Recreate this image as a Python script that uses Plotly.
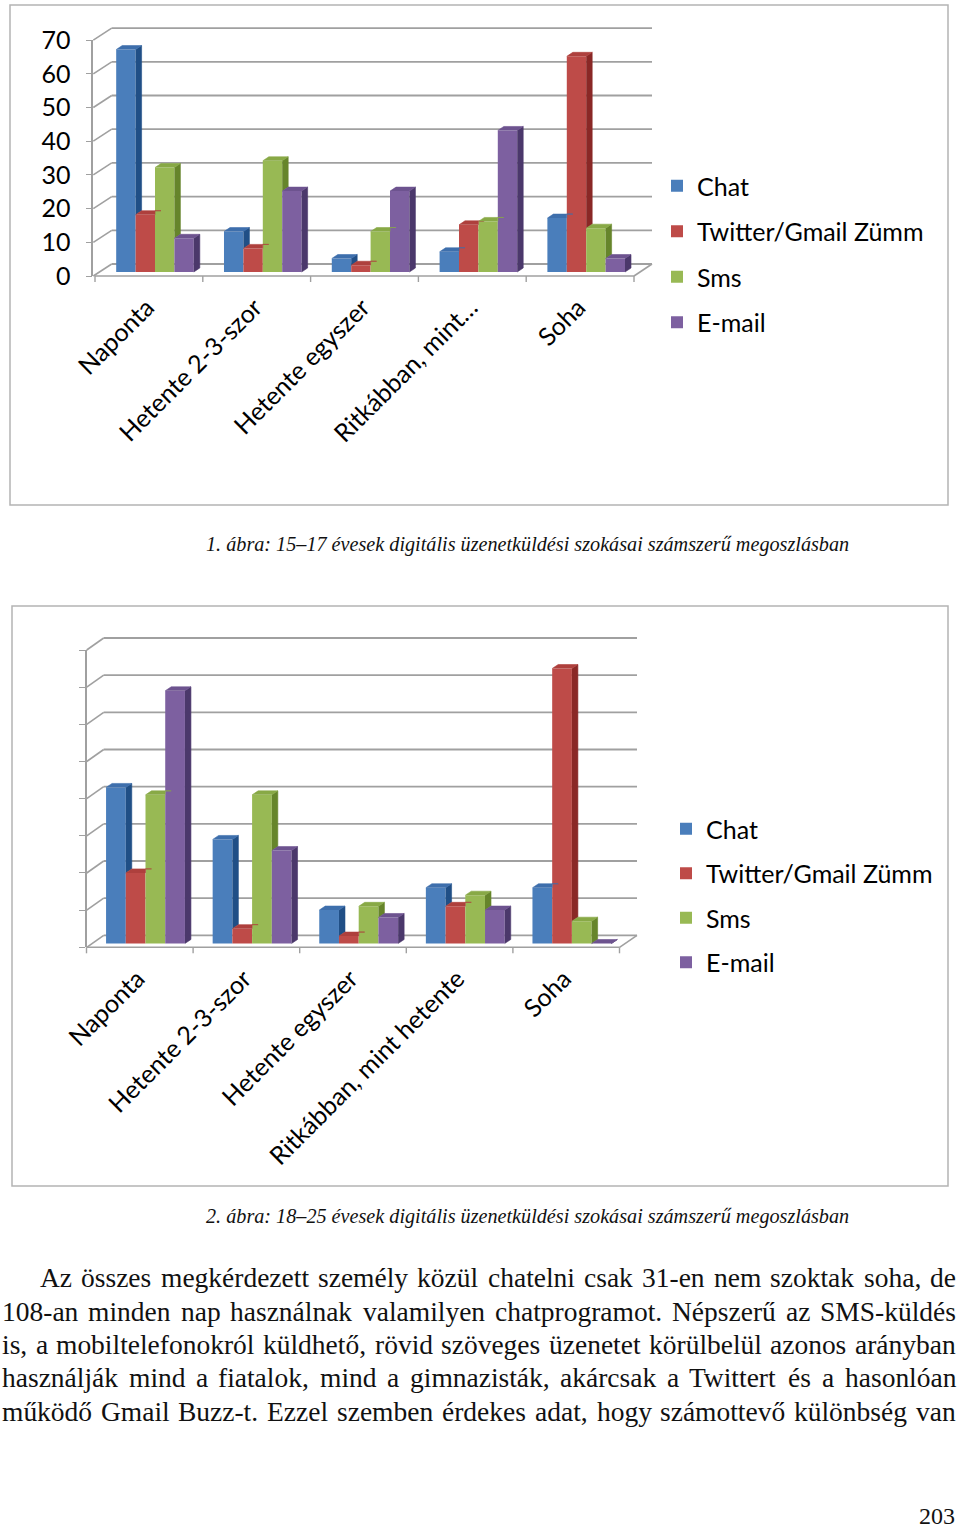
import plotly.graph_objects as go

# ---------------- data ----------------
categories_1 = ["Naponta", "Hetente 2-3-szor", "Hetente egyszer", "Ritkábban, mint…", "Soha"]
categories_2 = ["Naponta", "Hetente 2-3-szor", "Hetente egyszer", "Ritkábban, mint hetente", "Soha"]
series_names = ["Chat", "Twitter/Gmail Zümm", "Sms", "E-mail"]

chat_1 = [66, 12, 4, 6, 16]
twitter_1 = [17, 7, 2, 14, 64]
sms_1 = [31, 33, 12, 15, 13]
email_1 = [10, 24, 24, 42, 4]

chat_2 = [42, 28, 9, 15, 15]
twitter_2 = [19, 4, 2, 10, 74]
sms_2 = [40, 40, 10, 13, 6]
email_2 = [68, 25, 7, 9, 0]

y_ticks_1 = [0, 10, 20, 30, 40, 50, 60, 70]
y_ticks_2 = [0, 10, 20, 30, 40, 50, 60, 70, 80]

caption_1 = "1. ábra: 15–17 évesek digitális üzenetküldési szokásai számszerű megoszlásban"
caption_2 = "2. ábra: 18–25 évesek digitális üzenetküldési szokásai számszerű megoszlásban"
body_lines = [
    "Az összes megkérdezett személy közül chatelni csak 31-en nem szoktak soha, de",
    "108-an minden nap használnak valamilyen chatprogramot. Népszerű az SMS-küldés",
    "is, a mobiltelefonokról küldhető, rövid szöveges üzenetet körülbelül azonos arányban",
    "használják mind a fiatalok, mind a gimnazisták, akárcsak a Twittert és a hasonlóan",
    "működő Gmail Buzz-t. Ezzel szemben érdekes adat, hogy számottevő különbség van",
]
page_number = "203"

# ---------------- style ----------------
FRONT = ["#4A7EBB", "#BE4B48", "#98B954", "#7D60A0"]
SIDE = ["#204F86", "#8A2826", "#66852B", "#4B386B"]
TOP = ["#3E6FAC", "#AE403D", "#88A946", "#6D538F"]
GRID = "#a0a0a0"
FRAME = "#b4b4b4"
CHART_FONT = "Lato"
CHART_SIZE = 25
SERIF = "Liberation Serif"
W, H = 960, 1530

GEO_1 = dict(front_x=93.3, front_y0=276.0, scale=3.37, bar_cx0=155.0, cat_w=107.8,
             bar_y0=272.0, floor_x0=95.0, wall_dx=18.4, wall_dy=12.0, right_px=652.0,
             depth_dx=6.0, depth_dy=4.0, bargap=0.28, label_shift=-8.0)
GEO_2 = dict(front_x=86.7, front_y0=947.3, scale=3.716, bar_cx0=145.5, cat_w=106.6,
             bar_y0=943.5, floor_x0=86.5, wall_dx=17.0, wall_dy=12.0, right_px=637.0,
             depth_dx=6.0, depth_dy=4.0, bargap=0.26, label_shift=-8.0)


def px_x(px):
    return px / W


def px_y(py):
    return 1 - py / H


fig = go.Figure()
shapes = []
annotations = []


def add_chart(values, categories, ticks, geo, xa, ya, legend_name, show_labels):
    n_s = len(values)
    x_idx = list(range(len(categories)))
    bargap = geo["bargap"]
    bw = (1 - bargap) / n_s
    dx = geo["depth_dx"] / geo["cat_w"]
    dy = geo["depth_dy"] / geo["scale"]
    for s, vals in enumerate(values):
        fig.add_trace(go.Bar(
            x=x_idx, y=vals, name=series_names[s], xaxis=xa, yaxis=ya,
            marker=dict(color=FRONT[s], line=dict(width=0)), width=bw,
            offset=-(1 - bargap) / 2 + s * bw,
            legend=legend_name, legendgroup=f"{legend_name}_{s}", hoverinfo="skip"))
    for s, vals in enumerate(values):
        sx, sy, tx, ty = [], [], [], []
        for c, v in enumerate(vals):
            xl = c - (1 - bargap) / 2 + s * bw
            xr = xl + bw
            vn = values[s + 1][c] if s + 1 < n_s else None
            if vn is None or v > vn:
                base = 0 if vn is None else vn
                sx += [xr, xr + dx, xr + dx, xr, None]
                sy += [base, base + dy, v + dy, v, None]
            if vn is not None and vn > v:
                vc = min(vn, v + dy)
                tx += [xl, xl + dx, xr + dx, xr + (vc - v) / dy * dx, xr, xr, None]
                ty += [v, v + dy, v + dy, vc, vc, v, None]
            else:
                tx += [xl, xl + dx, xr + dx, xr, None]
                ty += [v, v + dy, v + dy, v, None]
        for fx, fy, col in ((sx, sy, SIDE[s]), (tx, ty, TOP[s])):
            fig.add_trace(go.Scatter(
                x=fx, y=fy, xaxis=xa, yaxis=ya, mode="lines", fill="toself",
                fillcolor=col, line=dict(width=0.6, color=col), showlegend=False,
                hoverinfo="skip"))

    # axis decorations (front axis diagonals, back wall grid, floor)
    off = (geo["front_y0"] - geo["bar_y0"]) / geo["scale"]
    ymax = ticks[-1]
    for v in ticks:
        fy = geo["front_y0"] - v * geo["scale"]
        bx = geo["front_x"] + geo["wall_dx"]
        by = fy - geo["wall_dy"]
        shapes.append(dict(type="line", xref="paper", yref="paper", layer="below",
                           x0=px_x(geo["front_x"]), y0=px_y(fy), x1=px_x(bx), y1=px_y(by),
                           line=dict(color=GRID, width=1.6)))
        shapes.append(dict(type="line", xref="paper", yref="paper", layer="below",
                           x0=px_x(bx), y0=px_y(by), x1=px_x(geo["right_px"]), y1=px_y(by),
                           line=dict(color=GRID, width=1.8)))
    n_c = len(categories)
    fr = geo["floor_x0"] + n_c * geo["cat_w"]
    shapes.append(dict(type="line", xref="paper", yref="paper", layer="below",
                       x0=px_x(geo["floor_x0"]), y0=px_y(geo["front_y0"]),
                       x1=px_x(fr), y1=px_y(geo["front_y0"]),
                       line=dict(color=GRID, width=1.6)))
    shapes.append(dict(type="line", xref="paper", yref="paper", layer="below",
                       x0=px_x(fr), y0=px_y(geo["front_y0"]),
                       x1=px_x(geo["right_px"]), y1=px_y(geo["front_y0"] - geo["wall_dy"]),
                       line=dict(color=GRID, width=1.6)))
    for k in range(n_c + 1):
        tx_ = geo["floor_x0"] + k * geo["cat_w"]
        shapes.append(dict(type="line", xref="paper", yref="paper", layer="below",
                           x0=px_x(tx_), y0=px_y(geo["front_y0"]),
                           x1=px_x(tx_), y1=px_y(geo["front_y0"] + 6),
                           line=dict(color=GRID, width=1.4)))

    xr0 = (geo["front_x"] - geo["bar_cx0"]) / geo["cat_w"]
    xr1 = (geo["right_px"] - geo["bar_cx0"]) / geo["cat_w"]
    top_px = geo["front_y0"] - ymax * geo["scale"]
    shift = geo["label_shift"] / geo["cat_w"]
    xkey = "xaxis" if xa == "x" else "xaxis" + xa[1:]
    ykey = "yaxis" if ya == "y" else "yaxis" + ya[1:]
    fig.layout[xkey] = dict(
        domain=[px_x(geo["front_x"]), px_x(geo["right_px"])], range=[xr0, xr1],
        anchor=ya, tickvals=[i + shift for i in x_idx], ticktext=categories, tickangle=-45,
        showgrid=False, zeroline=False, showline=False, ticks="", automargin=False,
        tickfont=dict(family=CHART_FONT, size=CHART_SIZE, color="#000"),
        ticklabelstandoff=11, fixedrange=True)
    fig.layout[ykey] = dict(
        domain=[px_y(geo["front_y0"]), px_y(top_px)], range=[-off, ymax - off],
        anchor=xa, tickvals=[t - off for t in ticks], ticktext=[str(t) for t in ticks],
        showticklabels=show_labels, showgrid=False, zeroline=False, showline=True,
        linecolor=GRID, linewidth=1.6, ticks="outside", ticklen=6, tickcolor=GRID,
        tickwidth=1.4, tickfont=dict(family=CHART_FONT, size=CHART_SIZE, color="#000"),
        ticklabelstandoff=10, automargin=False, fixedrange=True)


add_chart([chat_1, twitter_1, sms_1, email_1], categories_1, y_ticks_1, GEO_1,
          "x", "y", "legend", True)
add_chart([chat_2, twitter_2, sms_2, email_2], categories_2, y_ticks_2, GEO_2,
          "x2", "y2", "legend2", False)

# chart frames
shapes.append(dict(type="rect", xref="paper", yref="paper", layer="below",
                   x0=px_x(10), y0=px_y(505), x1=px_x(948), y1=px_y(5),
                   line=dict(color=FRAME, width=1.5), fillcolor="rgba(0,0,0,0)"))
shapes.append(dict(type="rect", xref="paper", yref="paper", layer="below",
                   x0=px_x(12), y0=px_y(1186), x1=px_x(948), y1=px_y(606),
                   line=dict(color=FRAME, width=1.5), fillcolor="rgba(0,0,0,0)"))

# captions
for cap, cy in ((caption_1, 544), (caption_2, 1216)):
    annotations.append(dict(text=cap, xref="paper", yref="paper", x=px_x(527), y=px_y(cy),
                            xanchor="center", yanchor="middle", showarrow=False,
                            font=dict(family=SERIF, size=20.2, color="#111", style="italic")))

# body text, justified word by word (Times-compatible metrics)
TIMES = {" ": 250, ",": 250, ".": 250, "-": 333, "a": 444, "b": 500, "c": 444, "d": 500,
         "e": 444, "f": 333, "g": 500, "h": 500, "i": 278, "j": 278, "k": 500, "l": 278,
         "m": 778, "n": 500, "o": 500, "p": 500, "q": 500, "r": 333, "s": 389, "t": 278,
         "u": 500, "v": 500, "w": 722, "x": 500, "y": 500, "z": 444, "A": 722, "B": 667,
         "C": 667, "D": 722, "E": 611, "G": 722, "M": 889, "N": 722, "S": 556, "T": 611}
BASE = {"á": "a", "é": "e", "í": "i", "ó": "o", "ö": "o", "ő": "o", "ú": "u", "ü": "u",
        "ű": "u"}


def units(word):
    return sum(TIMES.get(BASE.get(ch, ch), 500) for ch in word)


line_starts = [40, 2, 2, 2, 2]
line_end = 956
# largest size at which every line fits with normal word spacing
body_size = min((line_end - st) * 1000 / (units(ln)) for ln, st in zip(body_lines, line_starts))
body_size = round(body_size * 0.985, 2)

line_ys = [1278, 1311.5, 1345, 1378, 1411.5]
for i, line in enumerate(body_lines):
    words = line.split(" ")
    total = sum(units(w) for w in words) * body_size / 1000
    gap = (line_end - line_starts[i] - total) / (len(words) - 1)
    x = line_starts[i]
    for w in words:
        annotations.append(dict(text=w, xref="paper", yref="paper", x=px_x(x),
                                y=px_y(line_ys[i]), xanchor="left", yanchor="middle",
                                showarrow=False, borderpad=0, borderwidth=0,
                                font=dict(family=SERIF, size=body_size, color="#111")))
        x += units(w) * body_size / 1000 + gap

annotations.append(dict(text=page_number, xref="paper", yref="paper", x=px_x(956),
                        y=px_y(1516), xanchor="right", yanchor="middle", showarrow=False,
                        borderpad=0, font=dict(family=SERIF, size=24, color="#111")))

fig.update_layout(
    width=W, height=H, margin=dict(l=0, r=0, t=0, b=0, autoexpand=False),
    paper_bgcolor="white", plot_bgcolor="rgba(0,0,0,0)",
    barmode="overlay",
    showlegend=True,
    legend=dict(x=px_x(657), y=px_y(163), xanchor="left", yanchor="top",
                font=dict(family=CHART_FONT, size=CHART_SIZE, color="#000"),
                tracegroupgap=10, bgcolor="rgba(0,0,0,0)", traceorder="grouped"),
    legend2=dict(x=px_x(666), y=px_y(806), xanchor="left", yanchor="top",
                 font=dict(family=CHART_FONT, size=CHART_SIZE, color="#000"),
                 tracegroupgap=9, bgcolor="rgba(0,0,0,0)", traceorder="grouped"),
    shapes=shapes, annotations=annotations,
)

fig.write_html("out.html", config={"displayModeBar": False},
               post_script="document.body.style.margin='0';document.body.style.overflow='hidden';")
